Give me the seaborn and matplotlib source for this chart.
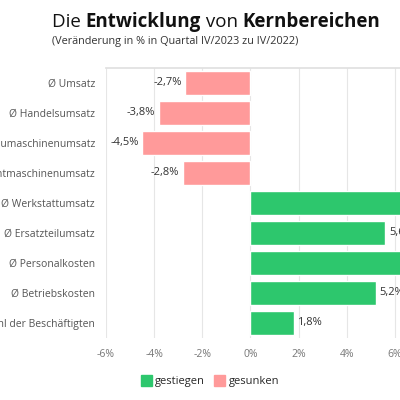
import matplotlib
matplotlib.use("Agg")
import matplotlib.pyplot as plt
import seaborn as sns
import pandas as pd
from matplotlib.patches import Patch

categories = ["Ø Umsatz", "Ø Handelsumsatz", "Ø Neumaschinenumsatz", "Ø Gebrauchtmaschinenumsatz",
              "Ø Werkstattumsatz", "Ø Ersatzteilumsatz", "Ø Personalkosten", "Ø Betriebskosten",
              "Ø Zahl der Beschäftigten"]
values = [-2.7, -3.8, -4.5, -2.8, 7.6, 5.6, 8.0, 5.2, 1.8]
ticks = [-6, -4, -2, 0, 2, 4, 6, 8]
GREEN = "#2dc76d"
RED = "#ff9a9a"

sns.set_theme(style="white")
plt.rcParams['font.family'] = ['Open Sans', 'DejaVu Sans']

df = pd.DataFrame({"cat": categories, "val": values})
df["grp"] = ["gestiegen" if v > 0 else "gesunken" for v in values]

fig = plt.figure(figsize=(4, 4), dpi=100)
ax = fig.add_axes([0.265, 0.155, 0.8425, 0.675])
sns.barplot(data=df, y="cat", x="val", hue="grp", palette={"gestiegen": GREEN, "gesunken": RED},
            dodge=False, width=0.8, saturation=1, ax=ax, legend=False, zorder=3)
ax.set_xlim(-6, 8)
ax.set_xticks(ticks)
ax.set_xticklabels([f"{t}%" for t in ticks], color="#777777", fontsize=7.5)
ax.tick_params(axis="y", labelsize=7.5, colors="#555555", length=0, pad=8)
ax.tick_params(axis="x", length=0, pad=8)
ax.set_xlabel(""); ax.set_ylabel("")
ax.grid(axis="x", color="#e6e6e6", lw=0.8, zorder=0)
for s in ["left", "right", "bottom"]:
    ax.spines[s].set_visible(False)
ax.spines["top"].set_color("#e0e0e0")
for i, v in enumerate(values):
    lab = f"{v:.1f}%".replace(".", ",")
    if v < 0:
        ax.text(v - 0.15, i, lab, ha="right", va="center", fontsize=8, color="#333333")
    else:
        ax.text(v + 0.15, i, lab, ha="left", va="center", fontsize=8, color="#333333")

fig.canvas.draw()
r = fig.canvas.get_renderer()
x = 52
yb = 1 - 27/400
for txt, w in [("Die ", "normal"), ("Entwicklung", "bold"), (" von ", "normal"), ("Kernbereichen", "bold")]:
    t = fig.text(x/400, yb, txt, fontsize=13.5, fontweight=w, color="#111111", va="baseline")
    x += t.get_window_extent(r).width
fig.text(52/400, 1-44/400, "(Veränderung in % in Quartal IV/2023 zu IV/2022)", fontsize=7.8, color="#333333")

handles = [Patch(color=GREEN, label="gestiegen"), Patch(color=RED, label="gesunken")]
fig.legend(handles=handles, loc="center", bbox_to_anchor=(210/400, 1-381/400), ncol=2, frameon=False,
           fontsize=8, handlelength=1, handleheight=1.2, columnspacing=0.8, handletextpad=0.3)
fig.savefig("out.png", dpi=100)
